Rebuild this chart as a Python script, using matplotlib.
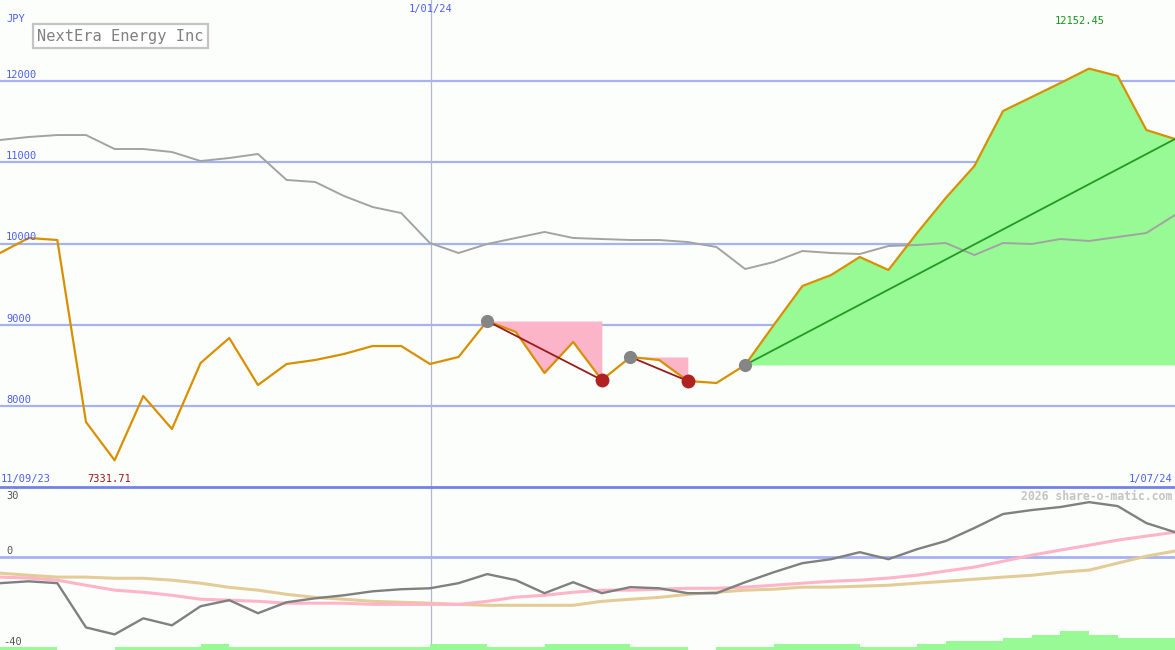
import matplotlib
matplotlib.use("Agg")
import matplotlib.pyplot as plt
from matplotlib.lines import Line2D
import numpy as np

# ---------------- data ----------------
price = [9883, 10068, 10043, 7803, 7331.71, 8123, 7717, 8529, 8837, 8258,
         8517, 8566, 8640, 8738, 8738, 8517, 8603, 9046, 8911, 8406,
         8788, 8320, 8603, 8566, 8308, 8283, 8505, 8997, 9477, 9612,
         9834, 9674, 10129, 10560, 10954, 11631, 11803, 11975, 12152.45, 12062,
         11397, 11286]
ref_line = [11274, 11311, 11335, 11335, 11163, 11163, 11126, 11015, 11052, 11102,
            10782, 10757, 10585, 10449, 10375, 10006, 9883, 9994, 10068, 10142,
            10068, 10055, 10043, 10043, 10018, 9957, 9686, 9772, 9908, 9883,
            9871, 9969, 9982, 10006, 9858, 10006, 9994, 10055, 10031, 10080,
            10129, 10351]
osc = [-11.3, -10.5, -11.3, -30.3, -33.3, -26.4, -29.4, -21.2, -18.6, -24.2,
       -19.5, -17.8, -16.5, -14.8, -13.9, -13.5, -11.3, -7.4, -10.0, -15.6,
       -10.9, -15.6, -13.0, -13.5, -15.6, -15.6, -10.9, -6.6, -2.7, -1.0,
       2.0, -1.0, 3.3, 6.8, 12.4, 18.4, 20.1, 21.4, 23.5, 21.8,
       14.5, 10.6]
osc_fast = [-8.7, -9.1, -10.0, -12.2, -14.3, -15.2, -16.5, -18.2, -18.6, -19.1,
            -19.9, -19.9, -19.9, -20.4, -20.4, -20.4, -20.4, -19.1, -17.3, -16.5,
            -15.2, -14.3, -14.3, -13.9, -13.5, -13.5, -13.0, -12.2, -11.3, -10.5,
            -10.0, -9.1, -7.9, -6.1, -4.4, -1.9, 0.7, 2.9, 5.0, 7.2,
            8.9, 10.6]
osc_slow = [-7.0, -7.9, -8.7, -8.7, -9.2, -9.2, -10.0, -11.3, -13.1, -14.3,
            -16.1, -17.4, -18.2, -19.1, -19.5, -19.9, -20.4, -20.8, -20.8, -20.8,
            -20.8, -19.1, -18.2, -17.4, -16.1, -15.2, -14.3, -13.9, -13.0, -13.0,
            -12.6, -12.2, -11.3, -10.5, -9.6, -8.7, -7.9, -6.6, -5.7, -2.7,
            0.3, 2.5]
vol = [1.3, 1.3, 0, 0, 1.3, 1.3, 1.3, 2.6, 1.3, 1.3,
       1.3, 1.3, 1.3, 1.3, 1.3, 2.6, 2.6, 1.3, 1.3, 2.6,
       2.6, 2.6, 1.3, 1.3, 0, 1.3, 1.3, 2.6, 2.6, 2.6,
       1.3, 1.3, 2.6, 3.9, 3.9, 5.2, 6.5, 8.2, 6.5, 5.2,
       5.2]
peaks = [17, 22, 26]
troughs = [21, 24]
declines = [(17, 21), (22, 24)]
rise = (26, 41)
price_ticks = [8000, 9000, 10000, 11000, 12000]
osc_ticks = [30, 0, -40]
date_labels = ["11/09/23", "1/01/24", "1/07/24"]
newyear_idx = 15.03
title = "NextEra Energy Inc"

# ---------------- style ----------------
W, H = 1175, 650
BG = "#fcfefc"
GRID = "#a6b2f2"
BLUE_TXT = "#4d5ff5"
ORANGE = "#d89000"
MONO = "DejaVu Sans Mono"

fig = plt.figure(figsize=(W / 100, H / 100), dpi=100, facecolor=BG)
top_h = 487 / H
ax1 = fig.add_axes([0, 1 - top_h, 1, top_h])
ax2 = fig.add_axes([0, 0, 1, 1 - top_h])
for ax in (ax1, ax2):
    ax.set_facecolor(BG)
    for s in ax.spines.values():
        s.set_visible(False)
    ax.set_xticks([])
    ax.set_yticks([])

x = np.arange(len(price))
price_a = np.array(price)

# ---- top panel ----
ax1.set_xlim(0, len(price) - 1)
ax1.set_ylim(7003, 12997)
for t in price_ticks:
    ax1.axhline(t, color=GRID, lw=1.6, zorder=1)
ax1.axvline(newyear_idx, color="#b4b8cc", lw=0.9, zorder=1)

# pink decline areas
for a, b in declines:
    xs = x[a:b + 1]
    ax1.fill_between(xs, price_a[a:b + 1], price_a[a], color="#fbb4c8",
                     lw=0, zorder=2)
# green rise area
a, b = rise
ax1.fill_between(x[a:b + 1], price_a[a:b + 1], price_a[a], color="#98fa94",
                 lw=0, zorder=2)

ax1.plot(x, ref_line, color="#a3a3a3", lw=1.4, zorder=3)
ax1.plot(x, price, color=ORANGE, lw=1.6, zorder=4)
ax1.plot([rise[0], rise[1]], [price[rise[0]], price[rise[1]]],
         color="#229922", lw=1.3, zorder=5)
for a, b in declines:
    ax1.plot([a, b], [price[a], price[b]], color="#9c1a1a", lw=1.3, zorder=5)
ax1.plot(peaks, [price[i] for i in peaks], "o", color="#858585", ms=9.5,
         mec="none", zorder=6)
ax1.plot(troughs, [price[i] for i in troughs], "o", color="#b02222", ms=10,
         mec="none", zorder=6)

# ---- bottom panel ----
ax2.set_xlim(0, len(price) - 1)
ax2.set_ylim(-40, 30)
ax2.axhline(0, color=GRID, lw=2, zorder=1)
ax2.axvline(newyear_idx, color="#b4b8cc", lw=0.9, zorder=1)
ax2.bar(np.arange(len(vol)), vol, width=1.0, align="edge", bottom=-40,
        color="#98fa94", lw=0, zorder=2)
ax2.plot(x, osc_slow, color="#e4cc98", lw=2.2, zorder=3)
ax2.plot(x, osc_fast, color="#ffb4c8", lw=2.2, zorder=3)
ax2.plot(x, osc, color="#808080", lw=1.7, zorder=4)

# separator line
fig.add_artist(Line2D([0, 1], [1 - 487 / H, 1 - 487 / H], color="#7282e6",
                      lw=2.0, transform=fig.transFigure))


def ftext(px, py, s, **kw):
    fig.text(px / W, 1 - py / H, s, family=MONO, **kw)


# texts top
ftext(6, 19, "JPY", color=BLUE_TXT, fontsize=7.5, va="center")
for t in price_ticks:
    ypix = 406 - (t - 8000) * 0.08125
    ftext(6, ypix - 6, str(t), color=BLUE_TXT, fontsize=7.5, va="center")
ftext(431, 9, date_labels[1], color=BLUE_TXT, fontsize=7.5, ha="center",
      va="center")
ftext(1080, 21, f"{max(price):.2f}", color="#1a961a", fontsize=7.5,
      ha="center", va="center")
ftext(1, 479, date_labels[0], color=BLUE_TXT, fontsize=7.5, va="center")
ftext(87, 479, f"{min(price):.2f}", color="#a01414", fontsize=7.5,
      va="center")
ftext(1172, 479, date_labels[2], color=BLUE_TXT, fontsize=7.5, ha="right",
      va="center")
ftext(1172, 496, "2026 share-o-matic.com", color="#c4c4c4", fontsize=8.3,
      ha="right", va="center", weight="bold")
ftext(6, 496, "30", color="#555555", fontsize=7.5, va="center")
ftext(6, 551, "0", color="#555555", fontsize=7.5, va="center")
ftext(3, 642, "-40", color="#555555", fontsize=7.5, va="center")

# title box
fig.text(37 / W, 1 - 36 / H, title, family=MONO, fontsize=11.1,
         color="#808080", va="center", ha="left",
         bbox=dict(boxstyle="square,pad=0.28", fc="white", ec="#c4c4c4",
                   lw=1.6))

fig.savefig("out.png", dpi=100, facecolor=BG)
